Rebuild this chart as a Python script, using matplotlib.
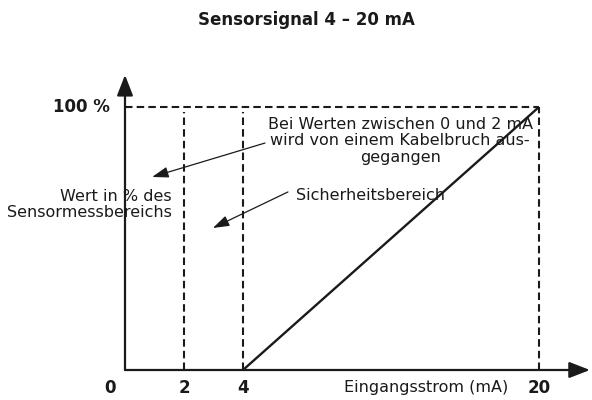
# Schematic: sensor signal 4-20 mA vs. percent of measuring range

import numpy as np
import matplotlib.pyplot as plt

# tick values on the current axis and their labels
tick_ma = [0, 2, 4, 20]
tick_labels = ['0', '2', '4', '20']

# characteristic line of the sensor (current in mA -> percent)
signal_ma = [4, 20]
signal_pct = [0, 100]

# dashed guide lines (x position, top in percent)
guide_ma = [2, 4, 20]
guide_top = [98, 98, 100]

# piecewise axis scale of the schematic (0-4 mA is drawn wider than 4-20 mA)
scale_ma = [0, 4, 20]
scale_pos = [0, 118, 414]

title = 'Sensorsignal 4 – 20 mA'
y_label = 'Wert in % des\nSensormessbereichs'
x_label = 'Eingangsstrom (mA)'
note_break = 'Bei Werten zwischen 0 und 2 mA\nwird von einem Kabelbruch aus-\ngegangen'
note_safe = 'Sicherheitsbereich'


def fwd(x):
    return np.interp(x, scale_ma, scale_pos)


def inv(p):
    return np.interp(p, scale_pos, scale_ma)


plt.rcParams['font.family'] = ['DejaVu Sans']
ink = '#1a1a1a'

fig = plt.figure(figsize=(5.92, 4.0), dpi=100)
ax = fig.add_axes([125 / 592, 30 / 400, 414 / 592, 263 / 400])
ax.set_xscale('function', functions=(fwd, inv))
ax.set_xlim(0, 20)
ax.set_ylim(0, 100)
for s in ax.spines.values():
    s.set_visible(False)
ax.set_xticks([])
ax.set_yticks([])
ax.minorticks_off()

# dashed frame lines
dash = (0, (3.6, 2.0))
ax.plot([0, 20], [100, 100], color=ink, lw=1.5, ls=dash, clip_on=False)
for gx, gt in zip(guide_ma, guide_top):
    ax.plot([gx, gx], [0, gt], color=ink, lw=1.5, ls=dash, clip_on=False)

# characteristic line
ax.plot(signal_ma, signal_pct, color=ink, lw=1.7, solid_capstyle='butt', clip_on=False)

# axes with arrow heads
axis_arrow = dict(arrowstyle='-|>,head_length=0.9,head_width=0.35', mutation_scale=14,
                  lw=1.6, color=ink, shrinkA=0, shrinkB=0)
ax.annotate('', xy=(0, 1.122), xytext=(0, 0), xycoords='axes fraction',
            textcoords='axes fraction', arrowprops=axis_arrow)
ax.annotate('', xy=(1.123, 0), xytext=(0, 0), xycoords='axes fraction',
            textcoords='axes fraction', arrowprops=axis_arrow)

# tick labels
for tx, tl in zip(tick_ma, tick_labels):
    shift = -11 if tx == 0 else 0
    ax.annotate(tl, xy=(tx, 0), xytext=(shift, -13), textcoords='offset points',
                ha='center', va='center', fontsize=12, fontweight='bold', color=ink)
ax.annotate('100 %', xy=(0, 100), xytext=(-11, 0), textcoords='offset points',
            ha='right', va='center', fontsize=12, fontweight='bold', color=ink)

ax.text(13.9, -6.8, x_label, ha='center', va='center', fontsize=11.5, color=ink, clip_on=False)
ax.text(1.59, 63, y_label, ha='right', va='center', multialignment='right',
        fontsize=11.5, color=ink, linespacing=1.1)

# annotations with arrows
note_arrow = dict(arrowstyle='-|>,head_length=0.9,head_width=0.3', mutation_scale=11,
                  lw=0.9, color=ink, shrinkA=0, shrinkB=0)
ax.text(12.5, 87.1, note_break, ha='center', va='center', multialignment='center',
        fontsize=11.5, color=ink, linespacing=1.1)
ax.annotate('', xy=(0.92, 73.4), xytext=(5.19, 86.3), arrowprops=note_arrow)
ax.text(6.85, 66.5, note_safe, ha='left', va='center', fontsize=11.5, color=ink)
ax.annotate('', xy=(2.98, 54.0), xytext=(6.43, 67.7), arrowprops=note_arrow)

fig.text(306 / 592, 1 - 20 / 400, title, ha='center', va='center',
         fontsize=12, fontweight='bold', color=ink)

plt.savefig('out.png', dpi=100)
